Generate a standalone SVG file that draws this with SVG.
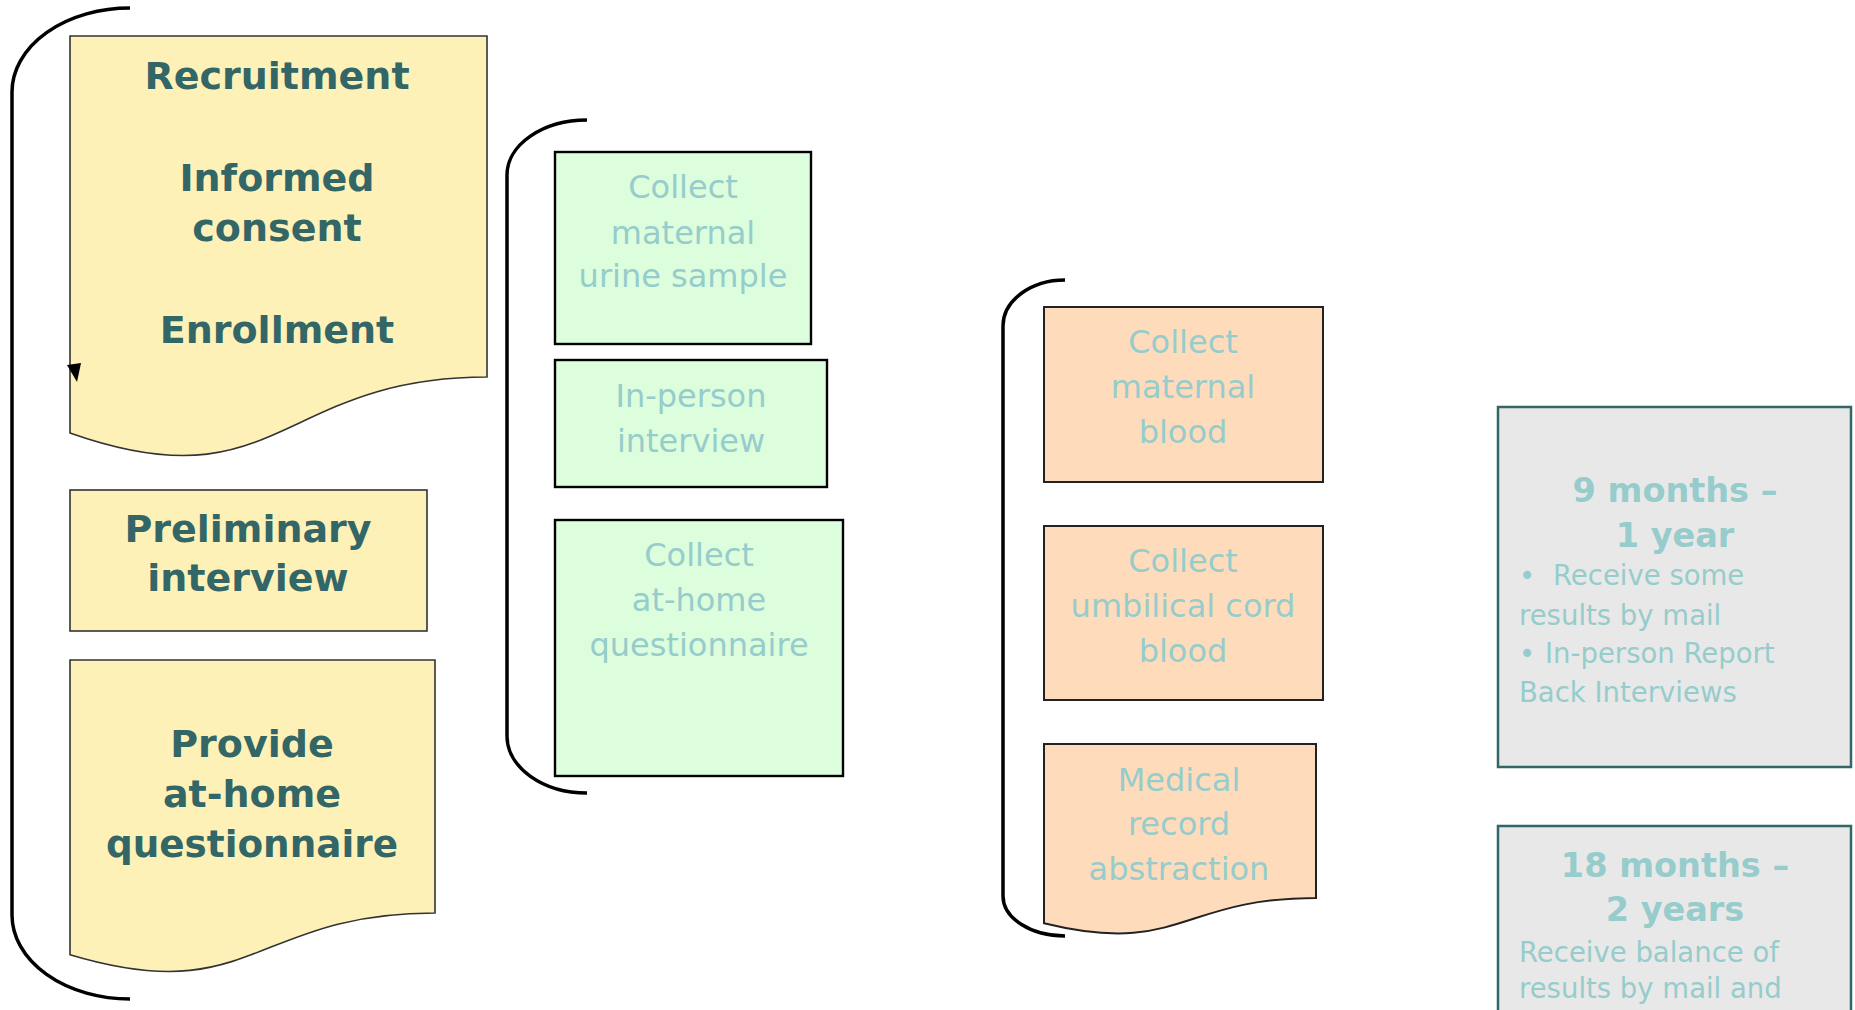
<svg xmlns="http://www.w3.org/2000/svg" width="1855" height="1010" viewBox="0 0 1855 1010">
<style>
.bk{fill:none;stroke:#000;stroke-width:3.5}
.yel{fill:#fef1b7;stroke:#333;stroke-width:1.6}
.grn{fill:#dcfedc;stroke:#000;stroke-width:2.4}
.pch{fill:#fedcbb;stroke:#222;stroke-width:2}
.gry{fill:#e8e8e8;stroke:#336666;stroke-width:2.5}
.tb{font-family:"DejaVu Sans",Verdana,sans-serif;font-weight:bold;font-size:38px;fill:#336666;text-anchor:middle}
.tl{font-family:"DejaVu Sans",Verdana,sans-serif;font-size:32px;fill:#96cccc;text-anchor:middle}
.gh{font-family:"DejaVu Sans",Verdana,sans-serif;font-weight:bold;font-size:33.5px;fill:#96cccc;text-anchor:middle}
.gt{font-family:"DejaVu Sans",Verdana,sans-serif;font-size:27.5px;fill:#96cccc}
</style>
<rect width="1855" height="1010" fill="#fff"/>
<g id="recruitment">
<path class="yel" d="M70,36 L487,36 L487,377 C278.5,377 278.5,506.7 70,433 Z"/>
<text class="tb" x="277" y="89">Recruitment</text>
<text class="tb" x="277" y="191">Informed</text>
<text class="tb" x="277" y="241">consent</text>
<text class="tb" x="277" y="343">Enrollment</text>
</g>
<g id="preliminary">
<rect class="yel" x="70" y="490" width="357" height="141"/>
<text class="tb" x="248" y="542">Preliminary</text>
<text class="tb" x="248" y="591">interview</text>
</g>
<g id="provide">
<path class="yel" d="M70,660 L435,660 L435,913 C252.5,913 252.5,1009.4 70,954.7 Z"/>
<text class="tb" x="252" y="757">Provide</text>
<text class="tb" x="252" y="807">at-home</text>
<text class="tb" x="252" y="857" textLength="292" lengthAdjust="spacingAndGlyphs">questionnaire</text>
</g>
<g id="urine">
<rect class="grn" x="555" y="152" width="256" height="192"/>
<text class="tl" x="683" y="198">Collect</text>
<text class="tl" x="683" y="244">maternal</text>
<text class="tl" x="683" y="287">urine sample</text>
</g>
<g id="inperson">
<rect class="grn" x="555" y="360" width="272" height="127"/>
<text class="tl" x="691" y="407">In-person</text>
<text class="tl" x="691" y="452">interview</text>
</g>
<g id="collect-q">
<rect class="grn" x="555" y="520" width="288" height="256"/>
<text class="tl" x="699" y="566">Collect</text>
<text class="tl" x="699" y="611">at-home</text>
<text class="tl" x="699" y="656">questionnaire</text>
</g>
<g id="mblood">
<rect class="pch" x="1044" y="307" width="279" height="175"/>
<text class="tl" x="1183" y="353">Collect</text>
<text class="tl" x="1183" y="398">maternal</text>
<text class="tl" x="1183" y="443">blood</text>
</g>
<g id="cord">
<rect class="pch" x="1044" y="526" width="279" height="174"/>
<text class="tl" x="1183" y="572">Collect</text>
<text class="tl" x="1183" y="617">umbilical cord</text>
<text class="tl" x="1183" y="662">blood</text>
</g>
<g id="medical">
<path class="pch" d="M1044,744 L1316,744 L1316,898 C1180,898 1180,956.6 1044,923.3 Z"/>
<text class="tl" x="1179" y="791">Medical</text>
<text class="tl" x="1179" y="835">record</text>
<text class="tl" x="1179" y="880">abstraction</text>
</g>
<g id="nine-months">
<rect class="gry" x="1498" y="407" width="353" height="360"/>
<text class="gh" x="1675" y="502">9 months –</text>
<text class="gh" x="1675" y="547">1 year</text>
<text class="gt" y="585"><tspan x="1519">•</tspan><tspan x="1553">Receive some</tspan></text>
<text class="gt" x="1519" y="625">results by mail</text>
<text class="gt" y="663"><tspan x="1519">•</tspan><tspan x="1545">In-person Report</tspan></text>
<text class="gt" x="1519" y="702">Back Interviews</text>
</g>
<g id="eighteen-months">
<rect class="gry" x="1498" y="826" width="353" height="200"/>
<text class="gh" x="1675" y="877">18 months –</text>
<text class="gh" x="1675" y="921">2 years</text>
<text class="gt" x="1519" y="962">Receive balance of</text>
<text class="gt" x="1519" y="998">results by mail and</text>
</g>
<g id="connectors">
<path class="bk" d="M130,8 A118,84 0 0 0 12,92 L12,915 A118,84 0 0 0 130,999"/>
<path class="bk" d="M587,120 A80,55 0 0 0 507,175 L507,736 A80,57 0 0 0 587,793"/>
<path class="bk" d="M1065,280 A62,46 0 0 0 1003,326 L1003,896 A62,40 0 0 0 1065,936"/>
<polygon points="67,365 81,363 77,382" fill="#000"/>
</g>
</svg>
